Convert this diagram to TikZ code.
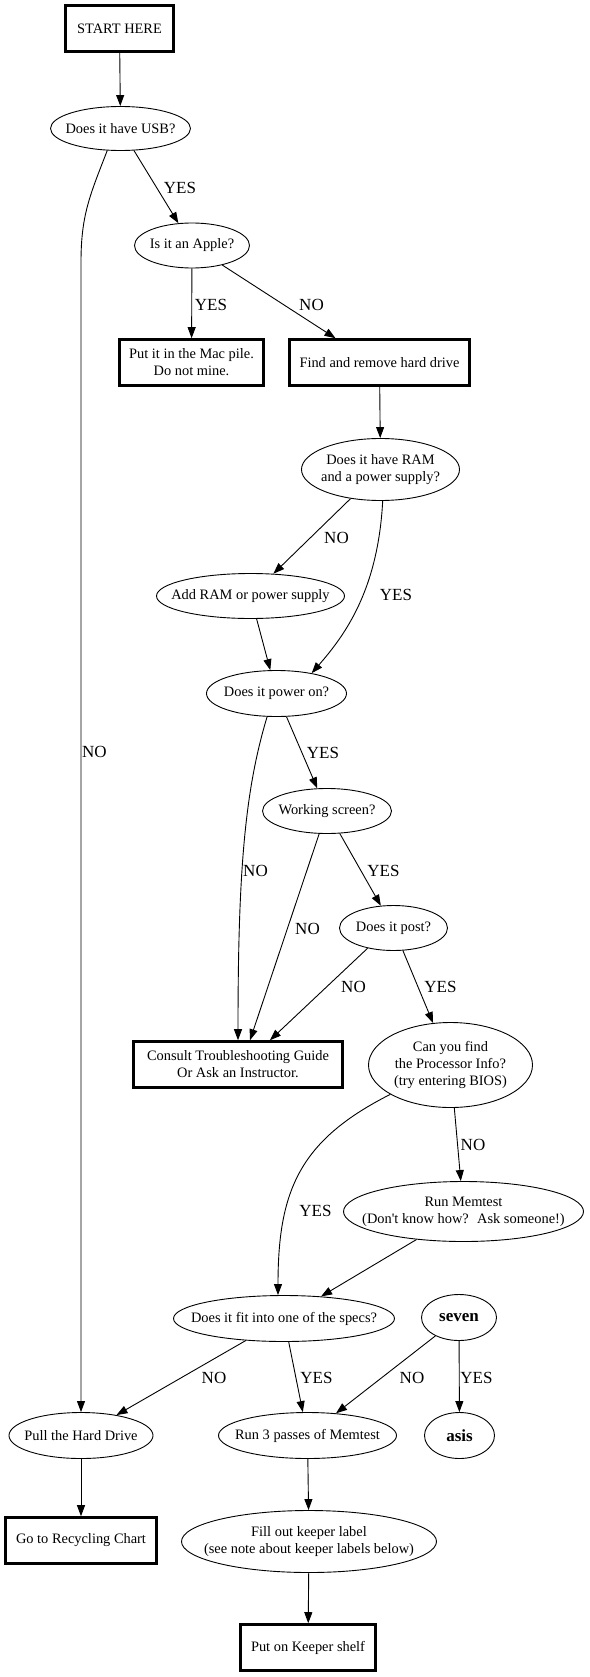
\documentclass[tikz,border=0pt]{standalone}
\usepackage{fontspec}
\setmainfont{Liberation Serif}
\usetikzlibrary{shapes.geometric,arrows.meta}
\begin{document}
\begin{tikzpicture}[x=1pt,y=-1pt,every node/.style={font=\fontsize{14.4}{17}\selectfont, align=center, inner sep=0pt},
oval/.style={draw, ellipse, line width=0.9pt, inner sep=-40pt},
box/.style={draw, rectangle, line width=2.6pt},
lbl/.style={font=\fontsize{17}{20}\selectfont},
arr/.style={line width=0.9pt, -{Triangle[length=11pt,width=8pt]}}]
\useasboundingbox (0,0) rectangle (589,1677);
\node[box, minimum width=108pt, minimum height=46pt] (start) at (119.5,28.5) {START HERE};
\node[oval, minimum width=140pt, minimum height=44pt] (usb) at (120.5,128.5) {Does it have USB?};
\node[oval, minimum width=115pt, minimum height=45pt] (apple) at (192,245.5) {Is it an Apple?};
\node[box, minimum width=144pt, minimum height=46pt] (mac) at (191.5,362.5) {Put it in the Mac pile.\\Do not mine.};
\node[box, minimum width=180pt, minimum height=46pt] (hdd) at (379.5,362.5) {Find and remove hard drive};
\node[oval, minimum width=158pt, minimum height=62pt] (ram) at (380.5,469.5) {Does it have RAM\\and a power supply?};
\node[oval, minimum width=188pt, minimum height=45pt] (addram) at (250.5,596) {Add RAM or power supply};
\node[oval, minimum width=140pt, minimum height=46pt] (power) at (276.5,693.5) {Does it power on?};
\node[oval, minimum width=129pt, minimum height=45pt] (screen) at (327,811) {Working screen?};
\node[oval, minimum width=108pt, minimum height=45pt] (post) at (393.5,928) {Does it post?};
\node[box, minimum width=209pt, minimum height=46pt] (consult) at (238,1064.5) {Consult Troubleshooting Guide\\Or Ask an Instructor.};
\node[oval, minimum width=164pt, minimum height=85pt] (cpu) at (450.5,1065) {Can you find\\the Processor Info?\\(try entering BIOS)};
\node[oval, minimum width=240pt, minimum height=60pt] (memtest) at (463.5,1211.5) {Run Memtest\\(Don\textquotesingle t know how?~ Ask someone!)};
\node[oval, minimum width=221pt, minimum height=46pt] (specs) at (284,1318.5) {Does it fit into one of the specs?};
\node[oval, minimum width=75pt, minimum height=46pt, font=\fontsize{17}{20}\selectfont\bfseries] (seven) at (459,1317.5) {seven};
\node[oval, minimum width=144pt, minimum height=46pt] (pull) at (81,1435.5) {Pull the Hard Drive};
\node[oval, minimum width=178pt, minimum height=46pt] (passes) at (307.5,1435.5) {Run 3 passes of Memtest};
\node[oval, minimum width=70pt, minimum height=46pt, font=\fontsize{17}{20}\selectfont\bfseries] (asis) at (459.5,1435.5) {asis};
\node[box, minimum width=151pt, minimum height=46pt] (recycle) at (81,1540.5) {Go to Recycling Chart};
\node[oval, minimum width=255pt, minimum height=62pt] (keeplbl) at (309,1541.5) {Fill out keeper label\\(see note about keeper labels below)};
\node[box, minimum width=135pt, minimum height=46pt] (shelf) at (308,1647.5) {Put on Keeper shelf};
\draw[arr] (start) -- (usb);
\draw[arr] (usb) -- (apple);
\draw[arr] (usb.239) .. controls (90,195) and (81,215) .. (81,262) -- (pull);
\draw[arr] (apple) -- (mac);
\draw[arr] (apple) -- ([xshift=-44pt]hdd.north);
\draw[arr] (hdd) -- (ram);
\draw[arr] (ram) -- (addram);
\draw[arr] (ram.274) .. controls (378,590) and (345,635) .. (power.30);
\draw[arr] (addram) -- (power);
\draw[arr] (power.248) .. controls (245,790) and (238,870) .. (consult.north);
\draw[arr] (power) -- (screen);
\draw[arr] (screen.251) -- ([xshift=12pt]consult.north);
\draw[arr] (screen) -- (post);
\draw[arr] (post.218) -- ([xshift=32pt]consult.north);
\draw[arr] (post) -- (cpu);
\draw[arr] (cpu) -- (memtest);
\draw[arr] (cpu.206) .. controls (300,1140) and (278,1190) .. ([xshift=-6pt]specs.north);
\draw[arr] (memtest) -- (specs);
\draw[arr] (specs) -- (pull);
\draw[arr] (specs) -- (passes);
\draw[arr] (seven) -- (passes);
\draw[arr] (seven) -- (asis);
\draw[arr] (pull) -- (recycle);
\draw[arr] (passes) -- (keeplbl);
\draw[arr] (keeplbl) -- (shelf);
\node[lbl] (yUsb) at (180,187.5) {YES};
\node[lbl] (nUsb) at (94.5,752) {NO};
\node[lbl] (yApple) at (211,305) {YES};
\node[lbl] (nApple) at (311.5,305) {NO};
\node[lbl] (nRam) at (336.5,537.5) {NO};
\node[lbl] (yRam) at (396,595) {YES};
\node[lbl] (yPower) at (323,753) {YES};
\node[lbl] (nPower) at (255.5,871) {NO};
\node[lbl] (yScreen) at (383.5,871) {YES};
\node[lbl] (nScreen) at (307.5,929) {NO};
\node[lbl] (nPost) at (353.5,987) {NO};
\node[lbl] (yPost) at (440.5,987) {YES};
\node[lbl] (nCpu) at (473,1145) {NO};
\node[lbl] (yCpu) at (315.5,1211) {YES};
\node[lbl] (nSpecs) at (214,1377.5) {NO};
\node[lbl] (ySpecs) at (316.5,1377.5) {YES};
\node[lbl] (nSeven) at (412,1377.5) {NO};
\node[lbl] (ySeven) at (476.5,1377.5) {YES};
\end{tikzpicture}
\end{document}
